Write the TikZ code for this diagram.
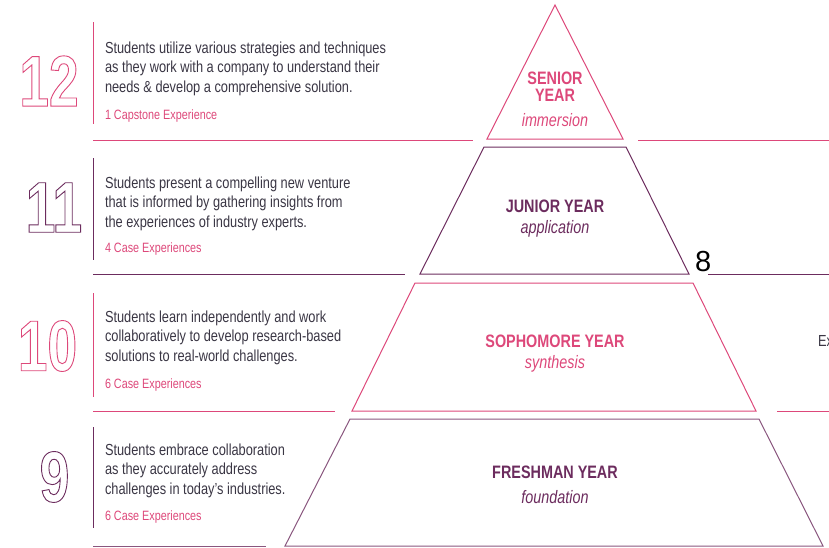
\documentclass[tikz,border=0pt]{standalone}
\usepackage{fontspec}
\setmainfont{Liberation Sans}[FakeStretch=0.8]
\newfontfamily\bignumfont{Liberation Sans}[FakeStretch=0.74]
\newfontfamily\plainfont{Liberation Sans}
\definecolor{pinkc}{RGB}{221,72,122}
\definecolor{plumc}{RGB}{108,44,94}
\definecolor{bodyc}{RGB}{58,54,68}
% hollow digits for the grade numbers
\newcommand{\hollow}[1]{\special{pdf:literal 1 Tr 0.9 w}#1\special{pdf:literal 0 Tr}}

\begin{document}
\begin{tikzpicture}[x=1pt,y=-1pt,
  every node/.style={inner sep=0pt,outer sep=0pt},
  grade/.style={font=\bignumfont\bfseries\fontsize{72}{72}\selectfont},
  desc/.style={anchor=north west,align=left,text=bodyc,font=\fontsize{16}{19.5}\selectfont},
  count/.style={anchor=base west,text=pinkc,font=\fontsize{13.5}{16}\selectfont},
  yearlbl/.style={anchor=base,font=\bfseries\fontsize{18}{18}\selectfont},
  verb/.style={anchor=base,font=\itshape\fontsize{18}{18}\selectfont},
  rule/.style={line width=1pt}]
\useasboundingbox (0,0) rectangle (829,547);

% pyramid
\draw[rule,pinkc] (555,5) -- (623,139) -- (487,139) -- cycle;
\draw[rule,plumc] (484,147) -- (626,147) -- (689,274) -- (420,274) -- cycle;
\draw[rule,pinkc] (415,283) -- (693,283) -- (756,411) -- (352,411) -- cycle;
\draw[rule,plumc!80] (350,419) -- (759,419) -- (823,546) -- (285,546) -- cycle;

\node[yearlbl,text=pinkc] (senior1) at (555,84) {SENIOR};
\node[yearlbl,text=pinkc] (senior2) at (555,101) {YEAR};
\node[verb,text=pinkc] (senior3) at (555,126) {immersion};
\node[yearlbl,text=plumc] (junior1) at (555,212) {JUNIOR YEAR};
\node[verb,text=plumc] (junior2) at (555,233) {application};
\node[yearlbl,text=pinkc] (soph1) at (555,347) {SOPHOMORE YEAR};
\node[verb,text=pinkc] (soph2) at (555,368) {synthesis};
\node[yearlbl,text=plumc] (fresh1) at (555,478) {FRESHMAN YEAR};
\node[verb,text=plumc] (fresh2) at (555,503) {foundation};

% separators
\draw[rule,pinkc] (93,140) -- (473,140);
\draw[rule,pinkc] (638,140) -- (829,140);
\draw[rule,plumc] (93,274) -- (405,274);
\draw[rule,plumc] (708,274) -- (829,274);
\draw[rule,pinkc] (93,411) -- (335,411);
\draw[rule,pinkc] (777,411) -- (829,411);
\draw[rule,plumc!80] (93,546) -- (266,546);

% grade 12
\node[grade,text=pinkc] (num12) at (49,81) {\hollow{12}};
\draw[rule,pinkc] (93,22) -- (93,124);
\node[desc] (desc12) at (105,41.5) {Students utilize various strategies and techniques\\as they work with a company to understand their\\needs \& develop a comprehensive solution.};
\node[count] (count12) at (105,119) {1 Capstone Experience};

% grade 11
\node[grade,text=plumc] (num11) at (54,207.5) {\hollow{11}};
\draw[rule,plumc] (93,158) -- (93,260);
\node[desc] (desc11) at (105,176.5) {Students present a compelling new venture\\that is informed by gathering insights from\\the experiences of industry experts.};
\node[count] (count11) at (105,252) {4 Case Experiences};

% grade 10
\node[grade,text=pinkc] (num10) at (47.5,346) {\hollow{10}};
\draw[rule,pinkc] (93,293) -- (93,397);
\node[desc] (desc10) at (105,310.5) {Students learn independently and work\\collaboratively to develop research-based\\solutions to real-world challenges.};
\node[count] (count10) at (105,388) {6 Case Experiences};

% grade 9
\node[grade,text=plumc] (num9) at (54.5,477) {\hollow{9}};
\draw[rule,plumc] (93,427) -- (93,528);
\node[desc] (desc9) at (105,443.5) {Students embrace collaboration\\as they accurately address\\challenges in today’s industries.};
\node[count] (count9) at (105,520) {6 Case Experiences};

% stray marks at the right
\node[anchor=base west,font=\plainfont\fontsize{29}{29}\selectfont] (eight) at (695,271) {8};
\node[anchor=base west,text=bodyc,font=\fontsize{16}{19.5}\selectfont] (ex) at (818,346) {Ex};
\end{tikzpicture}
\end{document}
